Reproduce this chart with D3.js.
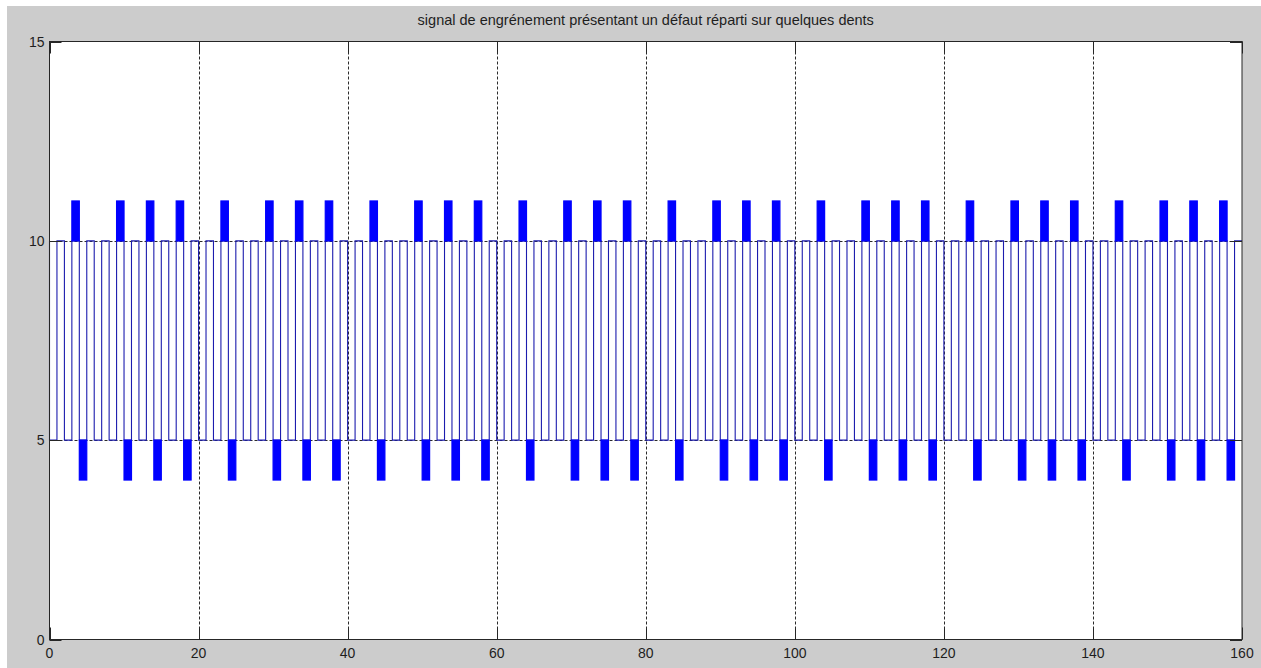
<!DOCTYPE html>
<html>
<head>
<meta charset="utf-8">
<script src="https://cdn.jsdelivr.net/npm/d3@7/dist/d3.min.js"></script>
<style>
  body { margin: 0; background: #ffffff; }
  svg { display: block; }
  text { font-family: "Liberation Sans", Arial, sans-serif; }
</style>
</head>
<body>
<svg id="chart" width="1261" height="668"></svg>
<script>
// Title and axis ticks
const titleText = "signal de engrénement présentant un défaut réparti sur quelques dents";
const xTicks = [0, 20, 40, 60, 80, 100, 120, 140, 160];
const yTicks = [0, 5, 10, 15];

// Level of the meshing signal on each unit interval [i, i+1]
const levels = [
  5,10,5,10,5,10,5,10,5,10,5,10,5,10,5,10,5,10,5,10,
  5,10,5,10,5,10,5,10,5,10,5,10,5,10,5,10,5,10,5,10,
  5,10,5,10,5,10,5,10,5,10,5,10,5,10,5,10,5,10,5,10,
  5,10,5,10,5,10,5,10,5,10,5,10,5,10,5,10,5,10,5,10,
  5,10,5,10,5,10,5,10,5,10,5,10,5,10,5,10,5,10,5,10,
  5,10,5,10,5,10,5,10,5,10,5,10,5,10,5,10,5,10,5,10,
  5,10,5,10,5,10,5,10,5,10,5,10,5,10,5,10,5,10,5,10,
  5,10,5,10,5,10,5,10,5,10,5,10,5,10,5,10,5,10,5,10
];
const startLevel = 10;

// Damaged teeth: start of the interval where the peak overshoots, and where the trough undershoots
const faultPeakStart = [3, 9, 13, 17, 23, 29, 33, 37, 43, 49, 53, 57, 63, 69, 73, 77,
                        83, 89, 93, 97, 103, 109, 113, 117, 123, 129, 133, 137, 143, 149, 153, 157];
const faultTroughStart = [4, 10, 14, 18, 24, 30, 34, 38, 44, 50, 54, 58, 64, 70, 74, 78,
                          84, 90, 94, 98, 104, 110, 114, 118, 124, 130, 134, 138, 144, 150, 154, 158];
const faultPeakLevel = 11;
const faultTroughLevel = 4;

const W = 1261, H = 668;
const plot = { left: 49.5, top: 41.5, right: 1242, bottom: 639.5 };
const tickLen = 12;

const svg = d3.select("#chart");

// figure background
svg.append("rect").attr("x", 7).attr("y", 6).attr("width", W - 7).attr("height", H - 6)
  .attr("fill", "#cccccc");

const x = d3.scaleLinear().domain([0, 160]).range([plot.left, plot.right]);
const y = d3.scaleLinear().domain([0, 15]).range([plot.bottom, plot.top]);

// axes background
svg.append("rect")
  .attr("x", plot.left).attr("y", plot.top)
  .attr("width", plot.right - plot.left).attr("height", plot.bottom - plot.top)
  .attr("fill", "#ffffff");

// dotted grid
const grid = svg.append("g").attr("stroke", "#2a2a2a").attr("stroke-width", 1)
  .attr("stroke-dasharray", "3,2");
grid.selectAll("line.gx").data(xTicks.slice(1, -1)).join("line")
  .attr("x1", d => Math.round(x(d)) + 0.5).attr("x2", d => Math.round(x(d)) + 0.5)
  .attr("y1", plot.top).attr("y2", plot.bottom);
grid.selectAll("line.gy").data(yTicks.slice(1, -1)).join("line")
  .attr("y1", d => Math.round(y(d)) + 0.5).attr("y2", d => Math.round(y(d)) + 0.5)
  .attr("x1", plot.left).attr("x2", plot.right);

// square-wave signal
const pts = [[0, startLevel]].concat(levels.map((v, i) => [i, v]), [[levels.length, levels[levels.length - 1]]]);
const line = d3.line().x(d => x(d[0])).y(d => y(d[1])).curve(d3.curveStepAfter);
svg.append("path").datum(pts)
  .attr("d", line)
  .attr("fill", "none")
  .attr("stroke", "#1c1cae")
  .attr("stroke-width", 1.1);

// fault overshoots above the peaks and under the troughs
const faults = svg.append("g").attr("fill", "#0000ff").attr("stroke", "#0000ff").attr("stroke-width", 1.2);
faults.selectAll("rect.peak").data(faultPeakStart).join("rect")
  .attr("x", d => x(d)).attr("width", d => x(d + 1) - x(d))
  .attr("y", y(faultPeakLevel)).attr("height", y(levels[faultPeakStart[0]]) - y(faultPeakLevel));
faults.selectAll("rect.trough").data(faultTroughStart).join("rect")
  .attr("x", d => x(d)).attr("width", d => x(d + 1) - x(d))
  .attr("y", y(levels[faultTroughStart[0]])).attr("height", y(faultTroughLevel) - y(levels[faultTroughStart[0]]));

// axes box and inward ticks
const axisG = svg.append("g").attr("stroke", "#262626").attr("stroke-width", 1).attr("fill", "none");
axisG.append("rect")
  .attr("x", plot.left).attr("y", plot.top)
  .attr("width", plot.right - plot.left).attr("height", plot.bottom - plot.top);
xTicks.forEach(t => {
  const px = Math.round(x(t)) + 0.5;
  axisG.append("line").attr("x1", px).attr("x2", px).attr("y1", plot.bottom).attr("y2", plot.bottom - tickLen);
  axisG.append("line").attr("x1", px).attr("x2", px).attr("y1", plot.top).attr("y2", plot.top + tickLen);
});
yTicks.forEach(t => {
  const py = Math.round(y(t)) + 0.5;
  axisG.append("line").attr("y1", py).attr("y2", py).attr("x1", plot.left).attr("x2", plot.left + tickLen);
  axisG.append("line").attr("y1", py).attr("y2", py).attr("x1", plot.right).attr("x2", plot.right - tickLen);
});

// tick labels
svg.append("g").selectAll("text").data(xTicks).join("text")
  .attr("x", d => x(d)).attr("y", 658)
  .attr("text-anchor", "middle").attr("font-size", 14).attr("fill", "#1e1e1e")
  .text(d => d);
svg.append("g").selectAll("text").data(yTicks).join("text")
  .attr("x", plot.left - 5).attr("y", d => y(d) + 5)
  .attr("text-anchor", "end").attr("font-size", 14).attr("fill", "#1e1e1e")
  .text(d => d);

// title
svg.append("text")
  .attr("x", (plot.left + plot.right) / 2).attr("y", 25)
  .attr("text-anchor", "middle").attr("font-size", 14.5).attr("fill", "#1e1e1e")
  .text(titleText);
</script>
</body>
</html>
